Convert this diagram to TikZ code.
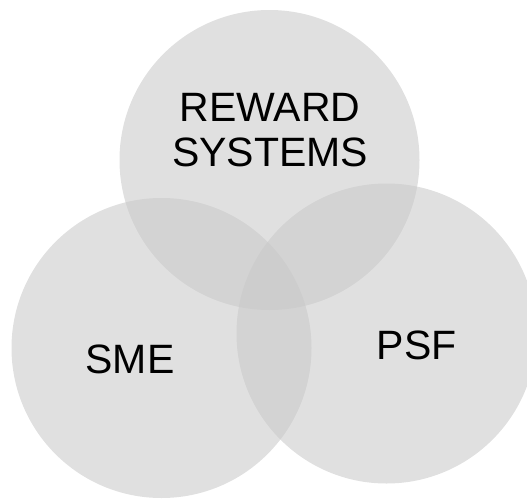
\documentclass[tikz,border=0pt]{standalone}
\usepackage{fontspec}
\setmainfont{Liberation Sans}
\definecolor{vfill}{RGB}{200,200,200}
\tikzset{
  venn/.style={circle, fill=vfill, fill opacity=0.56, draw=none, minimum size=300pt, inner sep=0pt},
  lbl/.style={font=\fontsize{41}{44.3}\selectfont, text=black, align=center, inner sep=0pt}
}
\begin{document}
\begin{tikzpicture}[x=1pt,y=-1pt]
\useasboundingbox (0,0) rectangle (527,498);
\node[venn] (top) at (269.5,160) {};
\node[venn] (left) at (161.5,348) {};
\node[venn] (right) at (386.5,333.5) {};
\node[lbl, anchor=base] (rew) at (270,166) {REWARD\\SYSTEMS};
\node[lbl, anchor=base] (sme) at (130,373.3) {SME};
\node[lbl, anchor=base] (psf) at (416.7,359.3) {PSF};
\end{tikzpicture}
\end{document}
